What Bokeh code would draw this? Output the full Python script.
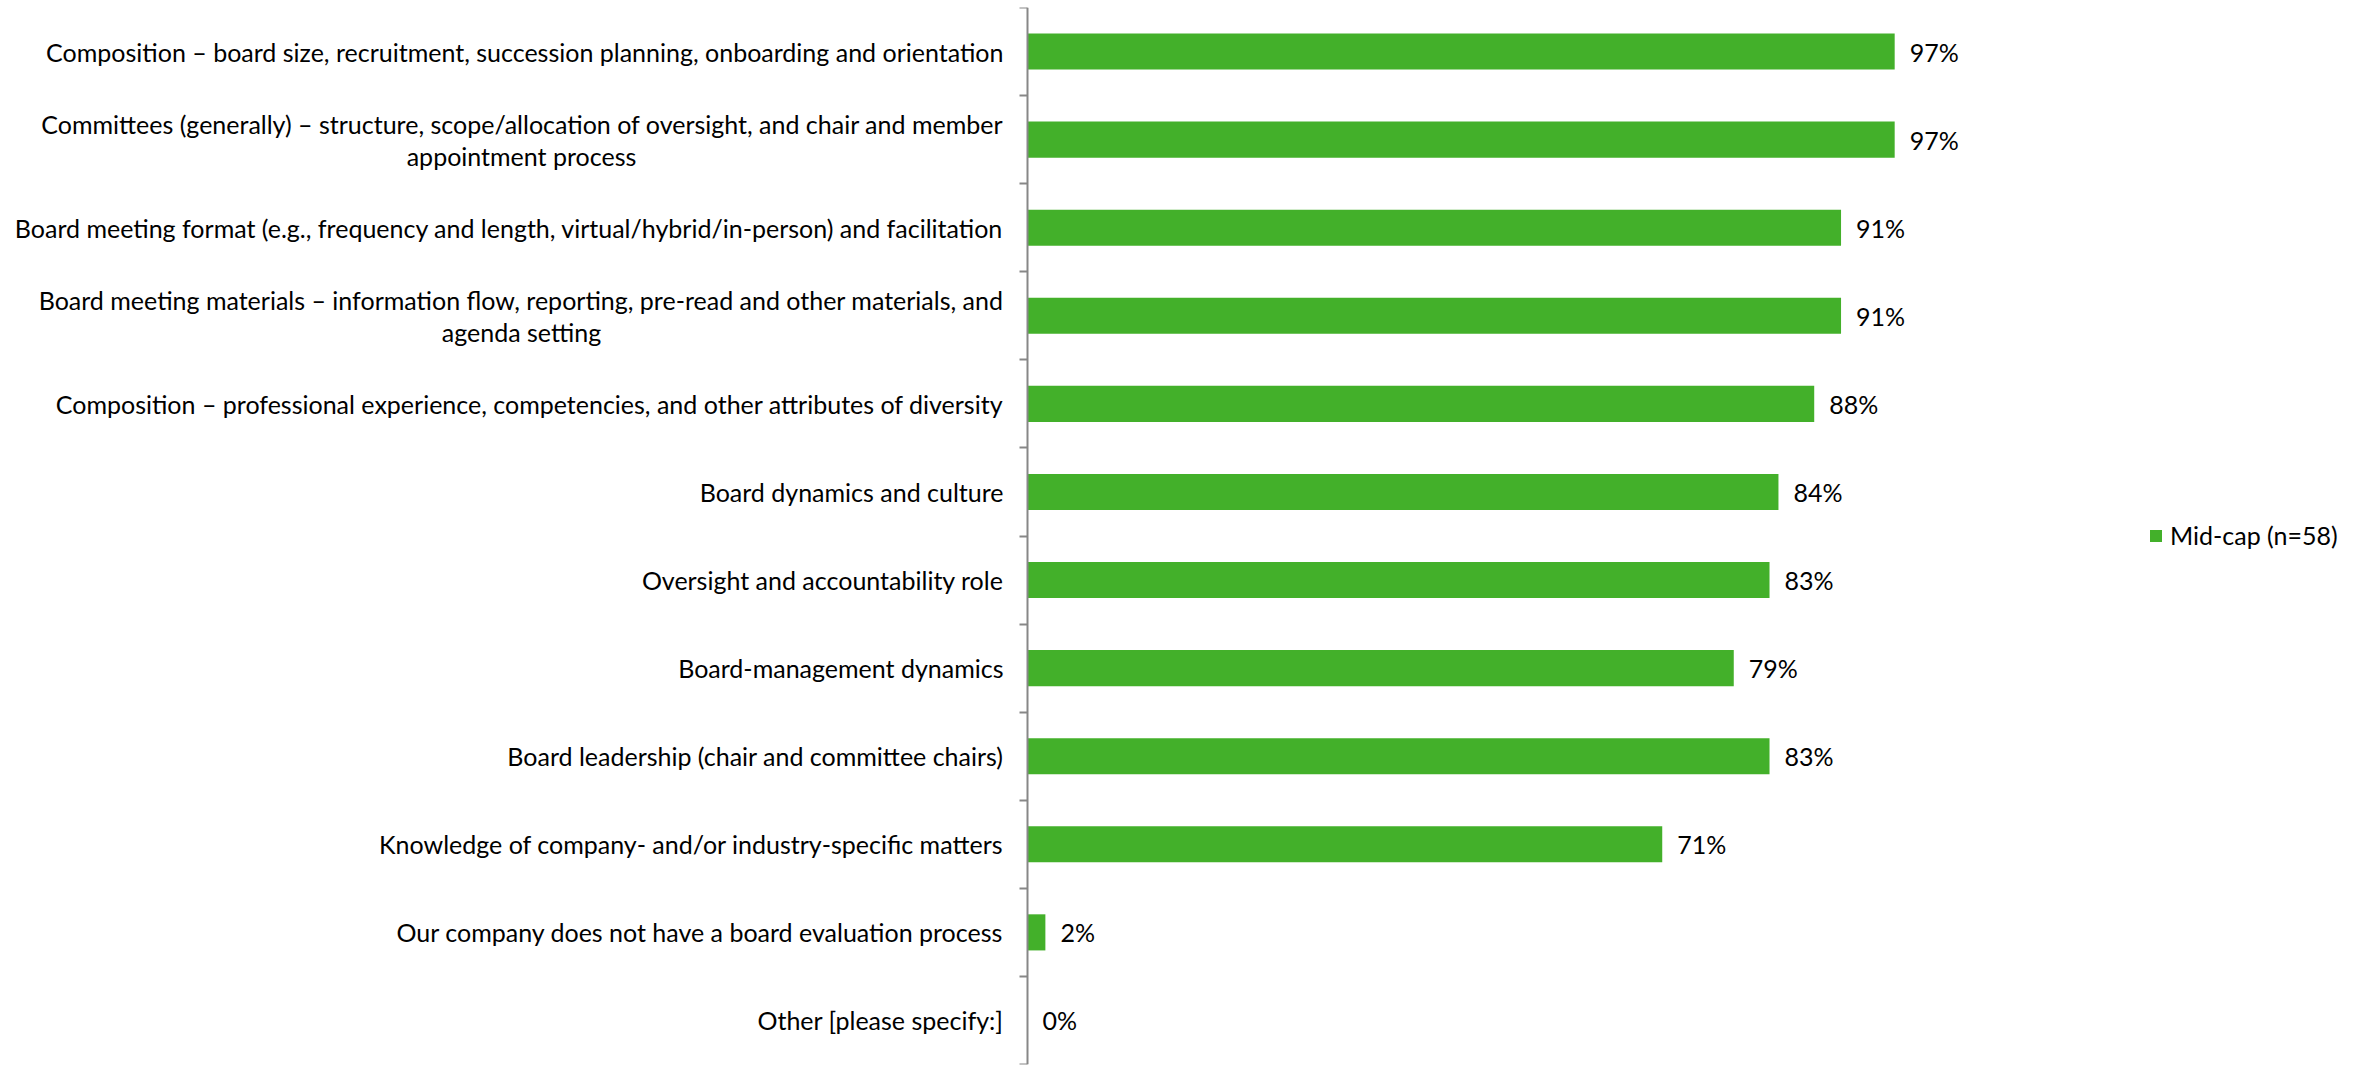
from bokeh.plotting import figure
from bokeh.models import Range1d, FixedTicker, ColumnDataSource, Legend, LegendItem
from bokeh.core.properties import value
from bokeh.embed import file_html
from bokeh.resources import INLINE

categories = [
    "Composition – board size, recruitment, succession planning, onboarding and orientation",
    "Committees (generally) – structure, scope/allocation of oversight, and chair and member\nappointment process",
    "Board meeting format (e.g., frequency and length, virtual/hybrid/in-person) and facilitation",
    "Board meeting materials – information flow, reporting, pre-read and other materials, and\nagenda setting",
    "Composition – professional experience, competencies, and other attributes of diversity",
    "Board dynamics and culture",
    "Oversight and accountability role",
    "Board-management dynamics",
    "Board leadership (chair and committee chairs)",
    "Knowledge of company- and/or industry-specific matters",
    "Our company does not have a board evaluation process",
    "Other [please specify:]",
]
values = [97, 97, 91, 91, 88, 84, 83, 79, 83, 71, 2, 0]
series_name = "Mid-cap (n=58)"

FONT = "Lato"
FS = "25px"
n = len(categories)
pos = [n - 1 - i for i in range(n)]
labels = [f"{v}%" for v in values]

PX_PER_UNIT = 8.94          # horizontal scale (pixels per percentage point)
AXIS_X = 1027               # screen x of the value axis
LEFT, RIGHT = 0, 10
x_start = -(AXIS_X - LEFT) / PX_PER_UNIT
x_end = (2364 - RIGHT - AXIS_X) / PX_PER_UNIT
LINE_SHIFT = 0.182          # half line spacing for two-line labels (in category units)

src = ColumnDataSource(dict(y=pos, v=values, lab=labels))

# category labels: single lines / first lines right-aligned, second lines centred under first
r_y, r_t, c_y, c_t = [], [], [], []
for i, c in enumerate(categories):
    parts = c.split("\n")
    if len(parts) == 1:
        r_y.append(pos[i]); r_t.append(c)
    else:
        r_y.append(pos[i] + LINE_SHIFT); r_t.append(parts[0])
        c_y.append(pos[i] - LINE_SHIFT); c_t.append(parts[1])

p = figure(width=2364, height=1067, output_backend="svg", toolbar_location=None,
           x_range=Range1d(x_start, x_end), y_range=Range1d(-0.5, n - 0.5),
           min_border_left=LEFT, min_border_right=RIGHT, min_border_top=7, min_border_bottom=3)
p.outline_line_color = None
p.grid.visible = False
p.xaxis.visible = False

r = p.hbar(y="y", right="v", left=0, height=0.41, source=src, fill_color="#43B02A", line_color=None)
p.text(x="v", y="y", text="lab", source=src, x_offset=15, text_baseline="middle", text_align="left",
       text_font=value(FONT), text_font_size=FS, text_color="#000000")

p.text(x=0, y=r_y, text=r_t, x_offset=-24, text_baseline="middle", text_align="right",
       text_font=value(FONT), text_font_size=FS, text_color="#000000")
p.text(x=0, y=c_y, text=c_t, x_offset=-506, text_baseline="middle", text_align="center",
       text_font=value(FONT), text_font_size=FS, text_color="#000000")

ax = p.yaxis[0]
ax.fixed_location = 0
ax.ticker = FixedTicker(ticks=[], minor_ticks=[k + 0.5 for k in range(-1, n)])
ax.major_label_standoff = 0
ax.major_tick_line_color = None
ax.major_tick_out = 0
ax.major_tick_in = 0
ax.minor_tick_line_color = "#878787"
ax.minor_tick_line_width = 2
ax.minor_tick_out = 8
ax.minor_tick_in = 0
ax.axis_line_color = "#878787"
ax.axis_line_width = 2

legend = Legend(items=[LegendItem(label=series_name, renderers=[r])], location=(2148 - LEFT, 514),
                glyph_width=15, glyph_height=15, label_standoff=7, padding=0, margin=0,
                border_line_color=None, background_fill_alpha=0,
                label_text_font=FONT, label_text_font_size=FS, label_text_color="#000000")
p.add_layout(legend)

open("out.html", "w").write(file_html(p, INLINE))
